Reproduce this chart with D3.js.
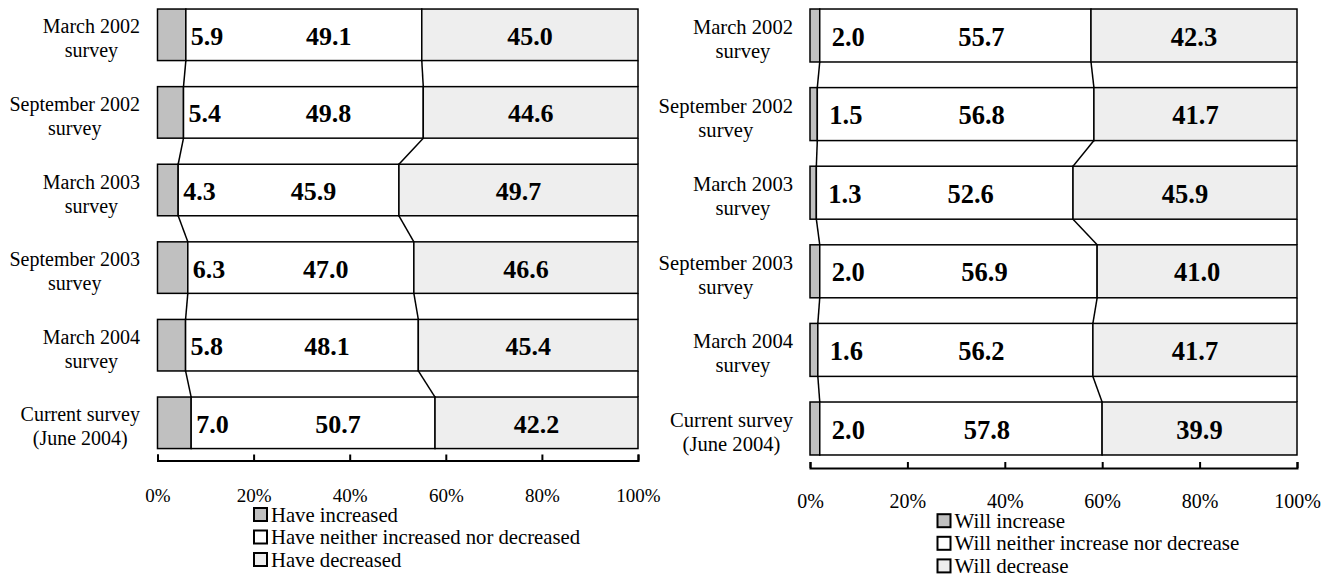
<!DOCTYPE html>
<html>
<head>
<meta charset="utf-8">
<script src="https://cdn.jsdelivr.net/npm/d3@7"></script>
<style>
  html, body { margin: 0; padding: 0; background: #ffffff; }
  svg { display: block; }
  text { font-family: "Liberation Serif", "Times New Roman", serif; fill: #000; }
</style>
</head>
<body>
<svg id="chart" width="1329" height="575"></svg>
<script>
// ---------- data ----------
const categories = [
  "March 2002\nsurvey",
  "September 2002\nsurvey",
  "March 2003\nsurvey",
  "September 2003\nsurvey",
  "March 2004\nsurvey",
  "Current survey\n(June 2004)"
];
const haveIncreased = [5.9, 5.4, 4.3, 6.3, 5.8, 7.0];
const haveNeither   = [49.1, 49.8, 45.9, 47.0, 48.1, 50.7];
const haveDecreased = [45.0, 44.6, 49.7, 46.6, 45.4, 42.2];

const willIncrease  = [2.0, 1.5, 1.3, 2.0, 1.6, 2.0];
const willNeither   = [55.7, 56.8, 52.6, 56.9, 56.2, 57.8];
const willDecrease  = [42.3, 41.7, 45.9, 41.0, 41.7, 39.9];

const tickValues = [0, 0.2, 0.4, 0.6, 0.8, 1.0];
const tickLabels = ["0%", "20%", "40%", "60%", "80%", "100%"];

const leftLegend  = ["Have increased", "Have neither increased nor decreased", "Have decreased"];
const rightLegend = ["Will increase", "Will neither increase nor decrease", "Will decrease"];

// ---------- styles ----------
const fills = ["#c0c0c0", "#ffffff", "#eeeeee"];
const svg = d3.select("#chart");

function drawPanel(cfg) {
  const series = [cfg.a, cfg.b, cfg.c];
  const rows = categories.map((cat, i) => {
    const vals = series.map(s => s[i]);
    const total = d3.sum(vals);
    let cum = 0;
    const segs = vals.map((v, k) => {
      const s0 = cum / total; cum += v; const s1 = cum / total;
      return { k, v, s0, s1 };
    });
    return { cat, i, segs };
  });

  const x = d3.scaleLinear().domain([0, 1]).range([cfg.x0, cfg.x1]);
  const y = d3.scaleBand().domain(d3.range(categories.length))
    .range([cfg.yTop, cfg.yBottom]).paddingInner(cfg.pad).paddingOuter(cfg.pad / 2);
  const bw = y.bandwidth();

  const g = svg.append("g");

  // series lines between bars
  const lines = [];
  for (let i = 0; i < rows.length - 1; i++) {
    for (let k = 0; k < 3; k++) {
      lines.push({
        x1: x(rows[i].segs[k].s1), y1: y(i) + bw,
        x2: x(rows[i + 1].segs[k].s1), y2: y(i + 1)
      });
    }
  }
  g.selectAll("line.series").data(lines).join("line")
    .attr("class", "series")
    .attr("x1", d => d.x1).attr("y1", d => d.y1)
    .attr("x2", d => d.x2).attr("y2", d => d.y2)
    .attr("stroke", "#000").attr("stroke-width", 1.5);

  // bars
  const rowG = g.selectAll("g.row").data(rows).join("g").attr("class", "row");
  rowG.selectAll("rect").data(d => d.segs.map(s => ({ ...s, i: d.i }))).join("rect")
    .attr("x", d => x(d.s0))
    .attr("y", d => y(d.i))
    .attr("width", d => x(d.s1) - x(d.s0))
    .attr("height", bw)
    .attr("fill", d => fills[d.k])
    .attr("stroke", "#000")
    .attr("stroke-width", 1.5);

  // value labels
  rowG.selectAll("text.val").data(d => d.segs.map(s => ({ ...s, i: d.i }))).join("text")
    .attr("class", "val")
    .attr("x", d => d.k === 0 ? x(d.s1) + cfg.firstOff
                : d.k === 1 ? (x(d.s0) + x(d.s1)) / 2 + cfg.midOff
                : (x(d.s0) + x(d.s1)) / 2)
    .attr("y", d => y(d.i) + bw / 2 + 10)
    .attr("text-anchor", d => d.k === 0 ? "start" : "middle")
    .style("font-size", cfg.valSize + "px")
    .style("font-weight", "bold")
    .text(d => d.v.toFixed(1));

  // category labels
  rows.forEach(r => {
    const lines = r.cat.split("\n");
    const tg = g.append("g");
    const ts = tg.selectAll("text").data(lines).join("text")
      .attr("y", (d, j) => y(r.i) + bw / 2 - 1.5 + j * 24)
      .attr("text-anchor", "middle")
      .style("font-size", cfg.catSize + "px")
      .text(d => d);
    let maxW = 0;
    ts.each(function () { maxW = Math.max(maxW, this.getComputedTextLength()); });
    ts.attr("x", cfg.labelRight - maxW / 2);
  });

  // axis
  const axis = d3.axisBottom(x)
    .tickValues(tickValues)
    .tickFormat((d, i) => tickLabels[i])
    .tickSizeInner(-6).tickSizeOuter(-6)
    .tickPadding(cfg.tickPad);
  const ag = g.append("g").attr("transform", `translate(0,${cfg.axisY})`).call(axis);
  ag.select(".domain").attr("stroke", "#000").attr("stroke-width", 2);
  ag.selectAll(".tick line").attr("stroke", "#000").attr("stroke-width", 2);
  ag.selectAll(".tick text")
    .style("font-family", '"Liberation Serif", "Times New Roman", serif')
    .style("font-size", cfg.tickSize + "px").attr("fill", "#000");

  // legend
  const lg = g.append("g");
  const items = lg.selectAll("g").data(cfg.legend).join("g")
    .attr("transform", (d, i) => `translate(${cfg.legX},${cfg.legY + i * cfg.legStep})`);
  items.append("rect")
    .attr("x", 0).attr("y", -6.5).attr("width", 13).attr("height", 13)
    .attr("fill", (d, i) => fills[i]).attr("stroke", "#000").attr("stroke-width", 2);
  items.append("text")
    .attr("x", 17).attr("y", 7)
    .style("font-size", cfg.legSize + "px")
    .text(d => d);
}

drawPanel({
  a: haveIncreased, b: haveNeither, c: haveDecreased,
  x0: 157.5, x1: 638, yTop: -4, yBottom: 461.6, pad: 0.336,
  labelRight: 140, firstOff: 5, midOff: 25,
  axisY: 460.5, tickPad: 28,
  catSize: 20, valSize: 26, tickSize: 19, legSize: 20.7,
  legend: leftLegend, legX: 254, legY: 514.5, legStep: 22.5
});

drawPanel({
  a: willIncrease, b: willNeither, c: willDecrease,
  x0: 810, x1: 1297, yTop: -3.8, yBottom: 467.8, pad: 0.326,
  labelRight: 793, firstOff: 12, midOff: 26,
  axisY: 468, tickPad: 26,
  catSize: 20.6, valSize: 26.5, tickSize: 20, legSize: 21,
  legend: rightLegend, legX: 937.5, legY: 520.7, legStep: 22.6
});
</script>
</body>
</html>
